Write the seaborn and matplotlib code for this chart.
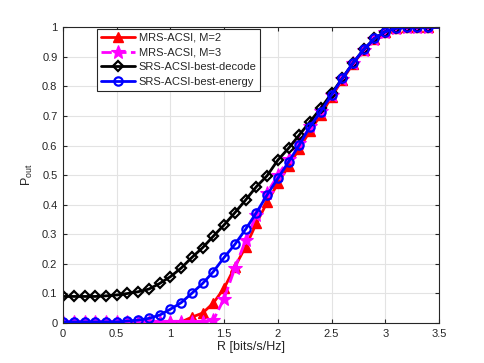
import numpy as np
import pandas as pd
import matplotlib
matplotlib.use("Agg")
import matplotlib.pyplot as plt
import seaborn as sns
from matplotlib.ticker import FuncFormatter, MultipleLocator

R = [round(0.1 * i, 1) for i in range(36)]

mrs_m2 = [0.003, 0.003, 0.003, 0.003, 0.003, 0.003, 0.003, 0.003, 0.003, 0.003,
          0.003, 0.004, 0.020, 0.034, 0.068, 0.118, 0.190, 0.258, 0.337, 0.408,
          0.472, 0.531, 0.590, 0.650, 0.703, 0.765, 0.822, 0.876, 0.922, 0.960,
          0.984, 0.996, 1.0, 1.0, 1.0, 1.0]
mrs_m3 = [0.003, 0.003, 0.003, 0.003, 0.003, 0.003, 0.003, 0.003, 0.003, 0.003,
          0.003, 0.003, 0.003, 0.004, 0.010, 0.083, 0.185, 0.280, 0.365, 0.440,
          0.500, 0.553, 0.607, 0.665, 0.717, 0.772, 0.826, 0.879, 0.924, 0.961,
          0.985, 0.997, 1.0, 1.0, 1.0, 1.0]
srs_decode = [0.090, 0.090, 0.090, 0.090, 0.092, 0.095, 0.100, 0.106, 0.115, 0.134,
              0.157, 0.186, 0.222, 0.255, 0.294, 0.332, 0.373, 0.416, 0.461, 0.498,
              0.551, 0.591, 0.636, 0.681, 0.726, 0.776, 0.827, 0.879, 0.925, 0.962,
              0.985, 0.997, 1.0, 1.0, 1.0, 1.0]
srs_energy = [0.004, 0.004, 0.004, 0.004, 0.004, 0.004, 0.007, 0.010, 0.016, 0.027,
              0.047, 0.069, 0.101, 0.134, 0.174, 0.222, 0.266, 0.317, 0.373, 0.433,
              0.489, 0.545, 0.602, 0.664, 0.715, 0.771, 0.827, 0.879, 0.925, 0.962,
              0.985, 0.997, 1.0, 1.0, 1.0, 1.0]

labels = ["MRS-ACSI, M=2", "MRS-ACSI, M=3", "SRS-ACSI-best-decode", "SRS-ACSI-best-energy"]
series = [mrs_m2, mrs_m3, srs_decode, srs_energy]

sns.set_theme(style="ticks")
plt.rcParams["font.family"] = ["Liberation Sans", "DejaVu Sans"]
plt.rcParams["mathtext.fontset"] = "custom"
plt.rcParams["mathtext.rm"] = "Liberation Sans"
plt.rcParams["mathtext.it"] = "Liberation Sans:italic"

fig = plt.figure(figsize=(4.85, 3.63), dpi=100)
ax = fig.add_axes([0.13, 0.11, 0.775, 0.815])

styles = [
    dict(color="#ff0000", marker="^", linestyle="-", markersize=7, markerfacecolor="#ff0000",
         markeredgecolor="#ff0000", markeredgewidth=1.0),
    dict(color="#ff00ff", marker="*", linestyle="--", markersize=10, markerfacecolor="#ff00ff",
         markeredgecolor="#ff00ff", markeredgewidth=0.8),
    dict(color="#000000", marker="D", linestyle="-", markersize=5.5, markerfacecolor="none",
         markeredgecolor="#000000", markeredgewidth=1.6),
    dict(color="#0000ff", marker="o", linestyle="-", markersize=6, markerfacecolor="none",
         markeredgecolor="#0000ff", markeredgewidth=1.6),
]

for vals, lab, st in zip(series, labels, styles):
    df = pd.DataFrame({"R": R, "P": vals})
    sns.lineplot(data=df, x="R", y="P", ax=ax, label=lab, linewidth=2.0,
                 markevery=list(range(len(R) - 1)), **st)

ax.set_xlim(0, 3.5)
ax.set_ylim(0, 1)
ax.xaxis.set_major_locator(MultipleLocator(0.5))
ax.yaxis.set_major_locator(MultipleLocator(0.1))
fmt = FuncFormatter(lambda v, p: "%g" % round(v, 2))
ax.xaxis.set_major_formatter(fmt)
ax.yaxis.set_major_formatter(fmt)
ax.grid(True, color="#e3e3e3", linewidth=0.8)
ax.set_axisbelow(True)
for s in ax.spines.values():
    s.set_visible(True)
    s.set_color("#262626")
    s.set_linewidth(0.8)
ax.tick_params(direction="in", top=True, right=True, length=3, width=0.8,
               labelsize=8, colors="#262626", pad=4)
ax.set_xlabel("R [bits/s/Hz]", fontsize=9, color="#262626", labelpad=2)
ax.set_ylabel(r"P$_{\mathrm{out}}$", fontsize=9, color="#262626", labelpad=5)

leg = ax.legend(loc="upper left", bbox_to_anchor=(0.09, 0.994), fontsize=8,
                frameon=True, fancybox=False, edgecolor="#262626", framealpha=1,
                handlelength=3.1, borderpad=0.35, labelspacing=0.42, handletextpad=0.3,
                borderaxespad=0)
leg.get_frame().set_linewidth(0.8)

fig.savefig("out.png", dpi=100)
